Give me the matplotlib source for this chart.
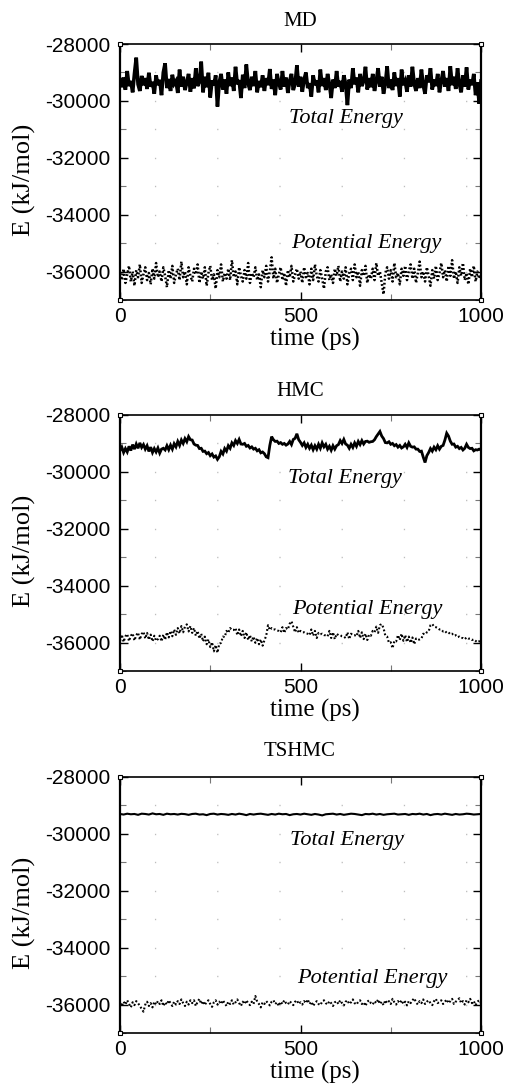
import numpy as np
import matplotlib
matplotlib.use("Agg")
import matplotlib.pyplot as plt
from matplotlib.ticker import MultipleLocator, FixedLocator

plt.rcParams['axes.unicode_minus'] = False
plt.rcParams['lines.scale_dashes'] = False

# ---------------- data ----------------
panel_titles = ["MD", "HMC", "TSHMC"]
x_ticks = [0, 500, 1000]
y_ticks = [-36000, -34000, -32000, -30000, -28000]

md_total = [
    -29250,-29520,-29180,-29610,-28950,-29480,-29300,-29700,-29050,-28480,-29420,-29650,-29120,-29450,-29200,-29580,-29010,-29500,-29330,-29750,
    -29100,-29450,-29260,-29800,-29000,-28680,-29550,-29230,-29650,-29080,-29400,-29300,-29720,-28900,-29500,-29150,-29620,-29350,-29050,-29680,
    -29200,-29560,-28850,-29480,-29320,-28620,-29700,-29150,-29520,-29010,-29880,-29280,-29460,-29100,-30200,-29350,-29050,-29600,-29250,-29750,
    -29000,-29480,-29180,-29650,-28800,-29420,-29270,-29900,-29080,-29550,-28720,-29400,-29620,-29150,-29480,-28950,-29700,-29300,-29520,-29100,
    -29650,-29200,-29450,-28880,-29580,-29250,-29800,-29050,-29380,-29600,-28950,-29500,-29180,-29720,-29300,-29050,-29620,-29400,-28750,-29500,
    -29150,-29680,-29250,-29000,-29550,-29380,-29850,-29100,-29450,-29280,-29700,-28900,-29480,-29200,-29620,-29050,-29400,-29900,-29250,-29550,
    -28950,-29500,-29300,-29680,-29100,-29400,-30150,-29250,-29550,-28850,-29420,-29180,-29700,-29050,-29480,-29300,-28800,-29600,-29200,-29520,
    -29050,-29650,-29300,-28850,-29500,-29150,-29750,-29400,-28780,-29550,-29250,-29620,-29000,-29480,-29200,-29850,-28900,-29450,-29300,-29680,
    -29100,-29500,-28800,-29400,-29650,-29200,-29550,-28900,-29450,-29750,-29100,-29350,-28850,-29600,-29250,-29480,-29050,-29700,-29300,-28950,
    -29500,-29200,-29650,-28780,-29450,-29150,-29580,-28850,-29400,-29700,-29100,-29500,-28820,-29600,-29250,-29450,-29050,-29800,-29350,-30100,-29300]

md_potential = [
    -36050,-36300,-35900,-36400,-36100,-35800,-36350,-36000,-36500,-35950,-36200,-35750,-36400,-36100,-35850,-36300,-36050,-36450,-35900,-36250,
    -35700,-36200,-36000,-36350,-35850,-36150,-36550,-35950,-36250,-35800,-36400,-36100,-35900,-36300,-35650,-36200,-36000,-36450,-35850,-36150,
    -36350,-35900,-36100,-35750,-36400,-36000,-36250,-35850,-36500,-36050,-35800,-36300,-36100,-36600,-35950,-36200,-35750,-36350,-36050,-36250,
    -35900,-36300,-35600,-36200,-36000,-36450,-35850,-36150,-36350,-35950,-36250,-35700,-36400,-36050,-36200,-35850,-36300,-36100,-36550,-35950,
    -36200,-35800,-36350,-36000,-35500,-36250,-35900,-36400,-36100,-35850,-36300,-36050,-36500,-35950,-36200,-35800,-36350,-36100,-35900,-36250,
    -36000,-36400,-35850,-36200,-36050,-36450,-35900,-36300,-35750,-36150,-36350,-35950,-36250,-36600,-36000,-35850,-36300,-36100,-36400,-35900,
    -36150,-35800,-36350,-36000,-36250,-35850,-36450,-36050,-35900,-36300,-35750,-36200,-36000,-36500,-35950,-36150,-35800,-36400,-36100,-36250,
    -35900,-36300,-35700,-36150,-36000,-36400,-36800,-36050,-35850,-36250,-35950,-36350,-35700,-36200,-36050,-36450,-35900,-36150,-35800,-36300,
    -36000,-35750,-36250,-35900,-36400,-36050,-35650,-36200,-36000,-36350,-35850,-36150,-36500,-35950,-36250,-35800,-36300,-36050,-35700,-36200,
    -35950,-36350,-35800,-36150,-35600,-36250,-36000,-36400,-35850,-36150,-35700,-36300,-36050,-36450,-35900,-36200,-35800,-36350,-36000,-36250,-36100]

hmc_total = [
    -29250,-29130,-29320,-29180,-29300,-29100,-29250,-29040,-29200,-29020,-29170,-28980,-29140,-29040,-29200,-29080,-29280,-29130,-29320,-29180,
    -29300,-29160,-29340,-29200,-29170,-29230,-29080,-29220,-29060,-29200,-29010,-29120,-28930,-29070,-28880,-29000,-28830,-28940,-28760,-28870,
    -28880,-29020,-29060,-29070,-29180,-29170,-29280,-29270,-29360,-29320,-29430,-29370,-29480,-29440,-29560,-29470,-29280,-29370,-29180,-29270,
    -29080,-29170,-28980,-29070,-28900,-29000,-28860,-29020,-29030,-29000,-29100,-29070,-29160,-29120,-29200,-29170,-29260,-29220,-29330,-29300,
    -29360,-29470,-29500,-29070,-28760,-28870,-28930,-28920,-29000,-28970,-29030,-29000,-29060,-29020,-28930,-29040,-28860,-28820,-28660,-28870,
    -28960,-29070,-28980,-29140,-29030,-29170,-29060,-29220,-29080,-29200,-29030,-29170,-28980,-29120,-29030,-29200,-29100,-29240,-29080,-29200,
    -29080,-29040,-28900,-29000,-28860,-29020,-29060,-29170,-29030,-29140,-28980,-29100,-28930,-29040,-28900,-29020,-28930,-28920,-28960,-28940,
    -28930,-28870,-28760,-28670,-28580,-28740,-28830,-28970,-28980,-28940,-29030,-29000,-29080,-29040,-29130,-29070,-29160,-29120,-29030,-29140,
    -28980,-29100,-29130,-29120,-29200,-29200,-29280,-29270,-29480,-29670,-29430,-29320,-29180,-29270,-29130,-29220,-29080,-29200,-29100,-29070,
    -28880,-28640,-28740,-28920,-29030,-29020,-29130,-29100,-29180,-29140,-29230,-29170,-29030,-29140,-29180,-29170,-29260,-29220,-29230,-29200,-29230]

hmc_potential = [
    -35950,-35720,-35980,-35780,-35700,-35950,-35760,-35680,-35930,-35740,-35650,-35900,-35700,-35620,-35860,-35660,-35900,-35720,-35960,-35760,
    -35940,-35880,-35760,-35960,-35720,-35900,-35640,-35820,-35590,-35780,-35540,-35730,-35490,-35680,-35420,-35640,-35440,-35360,-35610,-35420,
    -35660,-35490,-35760,-35590,-35860,-35690,-35960,-35790,-36060,-35890,-36160,-35990,-36310,-36090,-36360,-36040,-36010,-35790,-35810,-35590,
    -35660,-35490,-35560,-35560,-35490,-35740,-35540,-35780,-35590,-35840,-35640,-35910,-35740,-35960,-35790,-36010,-35840,-36060,-35890,-36110,
    -35920,-35760,-35390,-35560,-35490,-35540,-35540,-35580,-35590,-35640,-35460,-35660,-35490,-35540,-35340,-35250,-35440,-35640,-35460,-35660,
    -35590,-35640,-35640,-35680,-35690,-35740,-35540,-35760,-35590,-35840,-35660,-35710,-35690,-35740,-35740,-35780,-35590,-35840,-35640,-35880,
    -35690,-35740,-35740,-35780,-35790,-35840,-35640,-35880,-35690,-35740,-35740,-35780,-35590,-35840,-35640,-35880,-35690,-35910,-35720,-35760,
    -35590,-35640,-35440,-35660,-35390,-35350,-35490,-35760,-35790,-36010,-35990,-36200,-35940,-35960,-35740,-35910,-35690,-35940,-35740,-35980,
    -35790,-36010,-35820,-36060,-35860,-35910,-35890,-35860,-35690,-35710,-35640,-35610,-35390,-35350,-35440,-35460,-35490,-35540,-35540,-35610,
    -35590,-35660,-35640,-35710,-35690,-35760,-35740,-35810,-35790,-35840,-35840,-35880,-35820,-35860,-35860,-35910,-35890,-35940,-35990,-35960,-35880]

tshmc_total = [
    -29300,-29320,-29290,-29310,-29300,-29330,-29290,-29300,-29320,-29280,
    -29310,-29300,-29330,-29290,-29310,-29300,-29320,-29295,-29305,-29330,
    -29300,-29290,-29320,-29310,-29340,-29300,-29290,-29320,-29300,-29310,
    -29330,-29300,-29320,-29290,-29310,-29340,-29300,-29320,-29300,-29290,
    -29310,-29330,-29300,-29320,-29290,-29310,-29300,-29340,-29310,-29300,
    -29320,-29290,-29310,-29330,-29300,-29320,-29350,-29310,-29300,-29290,
    -29320,-29300,-29330,-29310,-29290,-29300,-29320,-29340,-29300,-29310,
    -29290,-29320,-29300,-29330,-29310,-29300,-29290,-29320,-29310,-29300,
    -29330,-29300,-29310,-29290,-29320,-29300,-29340,-29310,-29300,-29320,
    -29290,-29310,-29330,-29300,-29320,-29310,-29290,-29300,-29320,-29310,-29300]

tshmc_potential = [
    -35950,-36050,-35900,-36000,-35850,-35980,-36100,-35920,-36020,-35880,-35950,-36050,-36150,-36250,-36000,-35900,-36050,-35950,-36100,-35900,
    -36000,-35880,-35980,-35850,-36050,-35920,-36000,-35850,-35950,-36050,-35900,-36000,-35880,-35980,-35820,-35950,-36050,-35900,-36000,-35850,
    -35950,-35850,-36050,-35900,-35800,-35980,-35880,-36020,-35900,-35850,-35980,-36080,-35920,-35850,-36000,-35900,-35980,-35850,-35950,-36050,
    -35900,-35980,-35850,-36000,-35920,-35820,-35950,-36050,-35900,-35980,-35850,-35950,-36020,-35900,-35980,-35700,-35900,-35980,-36100,-35920,
    -35980,-35880,-35950,-36030,-35900,-35850,-35980,-35920,-36050,-35900,-35980,-35850,-35950,-36000,-35880,-35950,-36020,-35900,-35850,-35980,
    -35920,-36000,-35880,-35950,-35820,-35980,-35900,-36050,-35950,-35880,-35980,-36020,-35900,-35850,-35950,-36000,-35880,-35950,-36050,-35920,
    -35880,-35980,-35850,-35950,-36030,-35900,-35850,-35980,-35920,-35820,-35950,-36000,-35900,-35850,-35980,-35920,-36050,-35900,-35850,-35950,
    -36000,-35880,-35950,-35820,-35980,-35900,-36020,-35850,-35950,-35880,-35980,-35800,-35920,-36000,-35880,-35950,-35850,-35980,-35900,-36030,
    -35880,-35950,-35850,-35780,-35920,-36000,-35880,-35950,-35820,-35980,-35900,-35850,-35950,-36020,-35880,-35800,-35950,-35900,-35850,-35980,
    -35900,-35820,-35950,-35880,-35800,-35980,-35900,-35850,-35780,-35950,-35880,-36000,-35850,-35920,-35800,-35950,-35880,-36020,-35900,-35850,-35950]

totals = [md_total, hmc_total, tshmc_total]
potentials = [md_potential, hmc_potential, tshmc_potential]
total_lw = [2.6, 2.0, 1.5]
pot_lw = [1.8, 1.5, 1.5]

# label positions (data coords)
total_label_pos = [(625, -30610), (622, -30220), (628, -30220)]
pot_label_pos = [(683, -35020), (686, -34850), (700, -35090)]

# ---------------- layout ----------------
W, H = 532, 1084
fig = plt.figure(figsize=(W / 100, H / 100), dpi=100)

ax_left, ax_right = 120, 481
panel_tb = [(44, 300), (415, 671), (777, 1033)]
title_y = [22, 392, 751]

serif = ['Liberation Serif', 'DejaVu Serif']
sans = ['Liberation Sans', 'DejaVu Sans']

for i in range(3):
    top, bot = panel_tb[i]
    ax = fig.add_axes([ax_left / W, 1 - bot / H, (ax_right - ax_left) / W, (bot - top) / H])
    tt = np.linspace(0, 1000, len(totals[i]))
    tp = np.linspace(0, 1000, len(potentials[i]))
    ax.plot(tt, totals[i], color='black', lw=total_lw[i], solid_joinstyle='miter', zorder=3)
    ax.plot(tp, potentials[i], color='black', lw=pot_lw[i], linestyle=(0, (1.3, 1.6)), zorder=3)

    ax.set_xlim(0, 1000)
    ax.set_ylim(-37000, -28000)
    ax.xaxis.set_major_locator(FixedLocator(x_ticks))
    ax.xaxis.set_minor_locator(MultipleLocator(250))
    ax.yaxis.set_major_locator(FixedLocator(y_ticks))
    ax.yaxis.set_minor_locator(MultipleLocator(1000))
    ax.tick_params(which='both', direction='in', top=True, right=True, color='black')
    ax.tick_params(which='major', length=6, width=1.0)
    ax.tick_params(which='minor', length=4, width=0.8, color='#777777')
    ax.tick_params(axis='y', which='major', pad=7, labelsize=15)
    ax.tick_params(axis='x', which='major', pad=5, labelsize=15)
    for lab in ax.get_xticklabels() + ax.get_yticklabels():
        lab.set_family(sans)
    for s in ax.spines.values():
        s.set_linewidth(1.2)
    ax.spines['left'].set_linewidth(1.6)
    ax.spines['right'].set_linewidth(1.6)

    # sparse dotted grid
    for yv in range(-36000, -28000, 1000):
        ax.axhline(yv, color='#bdbdbd', lw=1.0, linestyle=(20, (0.9, 43.9)), zorder=1)

    # corner squares
    ax.plot([0, 1000, 0, 1000], [-28000, -28000, -37000, -37000], linestyle='none', marker='s',
            markersize=3.5, markerfacecolor='white', markeredgecolor='black', markeredgewidth=0.8,
            clip_on=False, zorder=5)

    ax.text(*total_label_pos[i], "Total Energy", ha='center', va='center', fontsize=16,
            style='italic', family=serif, zorder=4)
    ax.text(*pot_label_pos[i], "Potential Energy", ha='center', va='center', fontsize=16,
            style='italic', family=serif, zorder=4)

    fig.text(300 / W, 1 - title_y[i] / H, panel_titles[i], ha='center', va='center', fontsize=15,
             family=serif)
    fig.text(24 / W, 1 - ((top + bot) / 2 + 8) / H, "E (kJ/mol)", ha='center', va='center',
             rotation=90, fontsize=19, family=serif)
    fig.text(315 / W, 1 - (bot + 39) / H, "time (ps)", ha='center', va='center', fontsize=18,
             family=serif)

fig.savefig("out.png", dpi=100)
